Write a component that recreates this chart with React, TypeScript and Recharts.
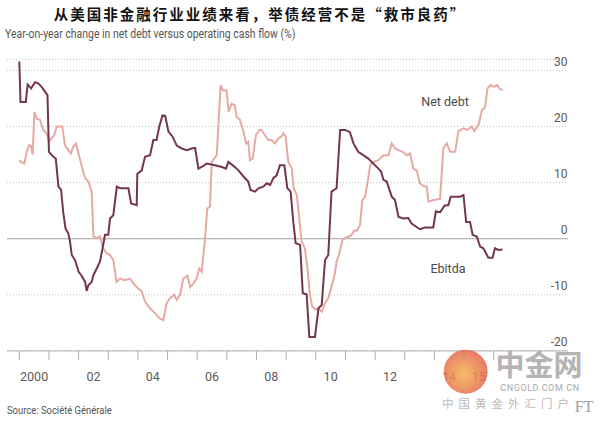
import { LineChart, Line, XAxis, YAxis, CartesianGrid, ReferenceLine } from 'recharts';

// Ebitda, year-on-year % change
const ebitdaYears = [
  2000.0, 2000.04, 2000.22, 2000.28, 2000.4, 2000.53, 2000.64, 2000.75, 2000.87, 2000.95,
  2001.0, 2001.15, 2001.23, 2001.32, 2001.41, 2001.48, 2001.56, 2001.65, 2001.71, 2001.77,
  2001.88, 2002.0, 2002.1, 2002.22, 2002.27, 2002.33, 2002.44, 2002.5, 2002.61, 2002.72,
  2002.83, 2002.89, 2003.0, 2003.06, 2003.17, 2003.29, 2003.4, 2003.68, 2003.77, 2003.96,
  2003.98, 2004.13, 2004.24, 2004.41, 2004.52, 2004.63, 2004.72, 2004.83, 2004.92, 2005.03,
  2005.17, 2005.31, 2005.48, 2005.65, 2005.81, 2005.93, 2006.04, 2006.15, 2006.32, 2006.6,
  2006.83, 2006.97, 2007.05, 2007.22, 2007.39, 2007.56, 2007.72, 2007.8, 2007.95, 2008.06,
  2008.23, 2008.34, 2008.46, 2008.57, 2008.68, 2008.79, 2008.94, 2009.04, 2009.15, 2009.24,
  2009.32, 2009.47, 2009.56, 2009.69, 2009.78, 2009.97, 2010.09, 2010.2, 2010.31, 2010.42,
  2010.53, 2010.7, 2010.82, 2010.99, 2011.15, 2011.27, 2011.43, 2011.6, 2011.77, 2011.94,
  2012.11, 2012.2, 2012.28, 2012.39, 2012.56, 2012.67, 2012.79, 2012.95, 2013.12, 2013.23,
  2013.4, 2013.51, 2013.68, 2013.96, 2014.05, 2014.19, 2014.34, 2014.47, 2014.55, 2014.87,
  2014.98, 2015.07, 2015.2, 2015.29, 2015.43, 2015.54, 2015.65, 2015.82, 2015.96, 2016.04,
  2016.16, 2016.3,
];
const ebitdaValues = [
  31.6, 24.4, 24.4, 27.5, 26.8, 27.9, 27.7, 27.1, 26.2, 25.6,
  15.5, 14.6, 14.3, 9.3, 8.7, 4.8, 1.8, 1.0, -0.5, -2.9,
  -3.8, -5.9, -6.6, -7.7, -9.3, -8.3, -7.7, -6.5, -5.3, -4.1,
  -1.1, 0.7, 0.7, 3.6, 4.2, 9.3, 9.0, 9.0, 6.3, 6.0,
  11.6, 12.2, 14.6, 14.9, 17.6, 17.6, 20.0, 22.0, 21.9, 19.1,
  18.2, 16.6, 16.1, 15.8, 16.1, 16.2, 12.5, 12.8, 13.4, 13.1,
  12.8, 12.5, 13.7, 13.0, 12.2, 11.1, 10.2, 8.7, 8.4, 9.0,
  9.3, 9.9, 9.6, 10.8, 11.3, 13.1, 13.1, 9.0, 8.4, 3.0,
  -0.8, -1.1, -9.7, -9.9, -17.5, -17.5, -12.4, -11.8, -3.8, -2.9,
  8.4, 9.0, 19.4, 19.4, 19.0, 17.0, 15.5, 14.9, 14.3, 13.4,
  12.5, 12.0, 10.5, 10.2, 7.5, 6.9, 3.9, 3.6, 3.7, 2.7,
  2.1, 1.7, 2.0, 2.0, 4.9, 4.7, 5.9, 6.0, 7.5, 7.5,
  7.8, 3.0, 3.0, 0.7, 0.4, -1.4, -1.7, -3.4, -3.4, -1.7,
  -2.0, -1.9,
];

// Net debt, year-on-year % change
const netDebtYears = [
  2000.0, 2000.08, 2000.17, 2000.25, 2000.33, 2000.39, 2000.45, 2000.51, 2000.59, 2000.7,
  2000.81, 2000.92, 2001.0, 2001.09, 2001.18, 2001.26, 2001.45, 2001.54, 2001.65, 2001.74,
  2001.82, 2001.91, 2002.01, 2002.13, 2002.22, 2002.33, 2002.44, 2002.5, 2002.61, 2002.72,
  2002.83, 2002.95, 2003.06, 2003.17, 2003.28, 2003.4, 2003.56, 2003.73, 2003.9, 2004.02,
  2004.13, 2004.24, 2004.41, 2004.58, 2004.74, 2004.86, 2004.97, 2005.08, 2005.22, 2005.31,
  2005.42, 2005.53, 2005.67, 2005.76, 2005.87, 2005.98, 2006.07, 2006.15, 2006.26, 2006.34,
  2006.43, 2006.49, 2006.66, 2006.72, 2006.79, 2006.86, 2006.99, 2007.06, 2007.16, 2007.27,
  2007.33, 2007.44, 2007.56, 2007.65, 2007.72, 2007.78, 2007.87, 2007.98, 2008.1, 2008.17,
  2008.28, 2008.4, 2008.51, 2008.62, 2008.74, 2008.83, 2008.91, 2008.98, 2009.07, 2009.19,
  2009.25, 2009.36, 2009.43, 2009.52, 2009.63, 2009.72, 2009.8, 2009.88, 2009.99, 2010.08,
  2010.2, 2010.31, 2010.42, 2010.51, 2010.63, 2010.7, 2010.78, 2010.9, 2011.01, 2011.12,
  2011.21, 2011.3, 2011.38, 2011.49, 2011.57, 2011.66, 2011.75, 2011.83, 2011.94, 2012.11,
  2012.28, 2012.45, 2012.56, 2012.67, 2012.79, 2012.93, 2013.07, 2013.18, 2013.29, 2013.4,
  2013.51, 2013.63, 2013.74, 2013.8, 2013.96, 2014.19, 2014.3, 2014.42, 2014.53, 2014.7,
  2014.81, 2014.98, 2015.1, 2015.26, 2015.34, 2015.49, 2015.6, 2015.71, 2015.79, 2015.9,
  2016.01, 2016.12, 2016.21, 2016.3,
];
const netDebtValues = [
  14.0, 13.6, 13.4, 15.5, 16.7, 16.6, 15.0, 22.6, 21.4, 21.2,
  19.4, 18.8, 17.3, 17.9, 18.5, 20.0, 20.0, 16.7, 15.8, 15.2,
  16.4, 17.0, 14.9, 12.5, 10.8, 10.2, 8.4, 0.4, 0.1, 0.4,
  -1.7, -2.6, -2.9, -3.8, -7.7, -7.1, -7.4, -7.1, -8.3, -8.9,
  -9.4, -11.2, -12.4, -13.3, -14.2, -14.5, -11.5, -10.6, -10.0, -10.9,
  -10.0, -7.1, -6.6, -8.6, -8.0, -7.1, -5.3, -5.9, -0.2, 5.4,
  5.7, 13.7, 14.9, 20.9, 27.4, 26.5, 26.5, 22.6, 24.1, 23.8,
  21.7, 21.2, 19.1, 17.0, 17.3, 14.0, 14.3, 18.5, 19.4, 19.4,
  18.5, 17.6, 17.6, 17.0, 17.9, 18.2, 18.8, 18.2, 13.7, 12.5,
  9.0, 7.8, 4.2, -0.5, -1.7, -5.3, -10.0, -12.1, -12.7, -12.4,
  -13.0, -11.5, -10.6, -8.9, -6.5, -4.1, -2.9, -0.2, 0.2, 0.4,
  0.7, 1.5, 1.4, 2.4, 6.9, 7.5, 10.2, 13.1, 13.7, 14.0,
  14.9, 14.9, 17.0, 16.1, 15.8, 15.5, 14.9, 15.2, 12.5, 12.2,
  9.9, 9.4, 9.3, 6.6, 6.9, 7.1, 16.1, 17.0, 15.5, 15.5,
  19.2, 19.7, 19.4, 20.0, 19.2, 20.3, 22.9, 23.5, 26.8, 27.4,
  27.1, 27.4, 26.7, 26.5,
];

const yTicks = [-20, -10, 0, 10, 20, 30];
const xTickYears = [
  2000, 2001, 2002, 2003, 2004, 2005, 2006, 2007, 2008,
  2009, 2010, 2011, 2012, 2013, 2014, 2015, 2016,
];
const xLabelYears = [2000, 2002, 2004, 2006, 2008, 2010, 2012, 2014, 2015];
const xLabelTexts = ['2000', '02', '04', '06', '08', '10', '12', '14', '15'];

const X_MIN = 1999.585;
const X_MAX = 2018.505;
const PLOT_LEFT = 7;
const PLOT_RIGHT = 568;
const HALF_YEAR = (PLOT_RIGHT - PLOT_LEFT) / (X_MAX - X_MIN) / 2;

const NET_DEBT_COLOR = '#e6aaa5';
const EBITDA_COLOR = '#74354f';
const TEXT_FONT = 'Roboto, "Open Sans", sans-serif';

const ebitdaData = ebitdaYears.map((year, i) => ({ year, value: ebitdaValues[i] }));
const netDebtData = netDebtYears.map((year, i) => ({ year, value: netDebtValues[i] }));

function YearTick({ x, y, payload }: any) {
  const i = xLabelYears.indexOf(payload.value);
  if (i < 0) return <g />;
  return (
    <text x={x + HALF_YEAR} y={y + 19} textAnchor="middle" fill="#5a5a5a"
      fontSize={12.5} fontFamily={TEXT_FONT}>
      {xLabelTexts[i]}
    </text>
  );
}

// y labels sit just above their gridline, right-aligned to the plot edge
function ValueTick({ y, payload }: any) {
  return (
    <text x={PLOT_RIGHT - 0.5} y={y - 4.5} textAnchor="end" fill="#5a5a5a"
      fontSize={12} fontFamily={TEXT_FONT}>
      {payload.value}
    </text>
  );
}

const abs = (left: number, top: number) => ({ position: 'absolute' as const, left, top, whiteSpace: 'nowrap' as const });

export default function App() {
  return (
    <div style={{ position: 'absolute', left: 0, top: 0, width: 600, height: 421, background: '#fff', overflow: 'hidden' }}>
      <div style={{ ...abs(260, 3), transform: 'translateX(-50%)', fontFamily: '"Noto Sans CJK SC", sans-serif', fontWeight: 700, fontSize: 14.5, letterSpacing: 2, color: '#111' }}>
        从美国非金融行业业绩来看，举债经营不是“救市良药”
      </div>
      <div style={{ ...abs(5, 27), transform: 'scaleX(0.87)', transformOrigin: 'left', fontFamily: TEXT_FONT, fontSize: 12, color: '#555' }}>
        Year-on-year change in net debt versus operating cash flow (%)
      </div>

      <div style={abs(0, 0)}>
        <LineChart width={600} height={421}
          margin={{ top: 59.3, right: 0, bottom: 30.1, left: PLOT_LEFT }}>
          <CartesianGrid vertical={false} stroke="#c4c4c4" strokeDasharray="1 2" />
          <XAxis dataKey="year" type="number" domain={[X_MIN, X_MAX]} ticks={xTickYears}
            height={40} allowDecimals interval={0} stroke="#b0b0b0" tickSize={9}
            tick={<YearTick />} />
          <YAxis type="number" orientation="right" domain={[-20, 32]} ticks={yTicks}
            width={600 - PLOT_RIGHT} axisLine={false} tickLine={false} interval={0}
            tick={<ValueTick />} />
          <ReferenceLine y={0} stroke="#a8a8a8" strokeWidth={1} />
          <Line data={netDebtData} dataKey="value" type="linear" stroke={NET_DEBT_COLOR}
            strokeWidth={2} dot={false} isAnimationActive={false} />
          <Line data={ebitdaData} dataKey="value" type="linear" stroke={EBITDA_COLOR}
            strokeWidth={2} dot={false} isAnimationActive={false} />
        </LineChart>
      </div>

      <div style={{ ...abs(445, 101), transform: 'translate(-50%, -50%)', fontFamily: TEXT_FONT, fontSize: 12.5, color: '#4a4a4a' }}>
        Net debt
      </div>
      <div style={{ ...abs(448, 268), transform: 'translate(-50%, -50%)', fontFamily: TEXT_FONT, fontSize: 12.5, color: '#4a4a4a' }}>
        Ebitda
      </div>

      <div style={{ ...abs(7, 404), transform: 'scaleX(0.9)', transformOrigin: 'left', fontFamily: TEXT_FONT, fontSize: 10.5, color: '#555' }}>
        Source: Société Générale
      </div>

      <svg width={600} height={421} style={abs(0, 0)}>
        <defs>
          <radialGradient id="wm" cx="45%" cy="55%" r="60%">
            <stop offset="0%" stopColor="#f3b24e" />
            <stop offset="100%" stopColor="#e35f4c" />
          </radialGradient>
        </defs>
        <circle cx={465.7} cy={371.7} r={22} fill="url(#wm)" opacity={0.85} />
        <text x={539} y={376} textAnchor="middle" fontFamily='"Noto Sans CJK SC", sans-serif'
          fontWeight={700} fontSize={29} fill="#b4b4b4">中金网</text>
        <text x={540} y={391} textAnchor="middle" fontFamily={TEXT_FONT} fontSize={9}
          letterSpacing={0.6} fill="#a8a8a8">CNGOLD.COM.CN</text>
        <text x={508} y={408} textAnchor="middle" fontFamily='"Noto Sans CJK SC", sans-serif'
          fontSize={11.5} letterSpacing={5} fill="#b8b8b8">中国黄金外汇门户</text>
        <text x={584} y={412} textAnchor="middle" fontFamily='"Liberation Serif", serif'
          fontSize={16} fill="#a0a0a0">FT</text>
      </svg>
    </div>
  );
}
